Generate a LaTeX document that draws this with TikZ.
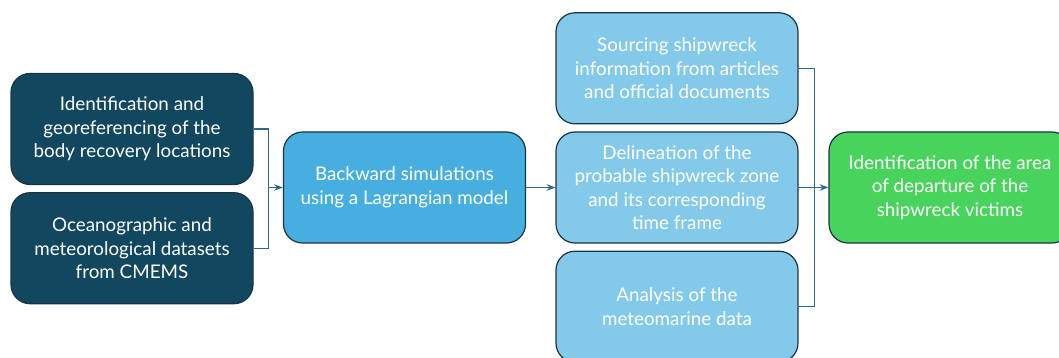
\documentclass[tikz,border=0pt]{standalone}
\usepackage{fontspec}
\setmainfont{Lato}
\usetikzlibrary{positioning, arrows.meta, calc}

\definecolor{navy}{HTML}{124760}
\definecolor{midblue}{HTML}{47AFE0}
\definecolor{paleblue}{HTML}{83CAEA}
\definecolor{leafgreen}{HTML}{48D45C}
\definecolor{edgec}{HTML}{1B3442}
\definecolor{linkc}{HTML}{2C6A8A}

\begin{document}
\begin{tikzpicture}[
    x=1pt, y=-1pt,
    >=Stealth,
    node distance=7pt and 31pt,
    block/.style={draw=edgec, line width=1.2pt, rectangle, rounded corners=19pt, minimum height=111pt, minimum width=242pt, align=center, text=white, font=\fontsize{18.8}{23.5}\selectfont},
    link/.style={draw=linkc, line width=1.3pt}
]
    \useasboundingbox (0,0) rectangle (1059,358);

    % Inputs
    \node[block, fill=navy] (recov) at (132,129) {Identification and\\georeferencing of the\\body recovery locations};
    \node[block, fill=navy, below=of recov] (cmems) {Oceanographic and\\meteorological datasets\\from CMEMS};

    % Simulation
    \node[block, fill=midblue] (lagr) at (404.5,187.5) {Backward simulations\\using a Lagrangian model};

    % Analysis
    \node[block, fill=paleblue] (delin) at (677,187.5) {Delineation of the\\probable shipwreck zone\\and its corresponding\\time frame};
    \node[block, fill=paleblue, above=of delin] (sourc) {Sourcing shipwreck\\information from articles\\and official documents};
    \node[block, fill=paleblue, below=of delin] (meteo) {Analysis of the\\meteomarine data};

    % Result
    \node[block, fill=leafgreen] (area) at (950,187.5) {Identification of the area\\of departure of the\\shipwreck victims};

    % Connections
    \draw[link] (recov.east) -- ++(15,0) coordinate (lj) |- (cmems.east);
    \draw[link, ->] (lj |- lagr.west) -- (lagr.west);
    \draw[link, ->] (lagr.east) -- (delin.west);
    \draw[link] (sourc.east) -- ++(16,0) coordinate (rj) |- (meteo.east);
    \draw[link, ->] (delin.east) -- (area.west);

\end{tikzpicture}
\end{document}
